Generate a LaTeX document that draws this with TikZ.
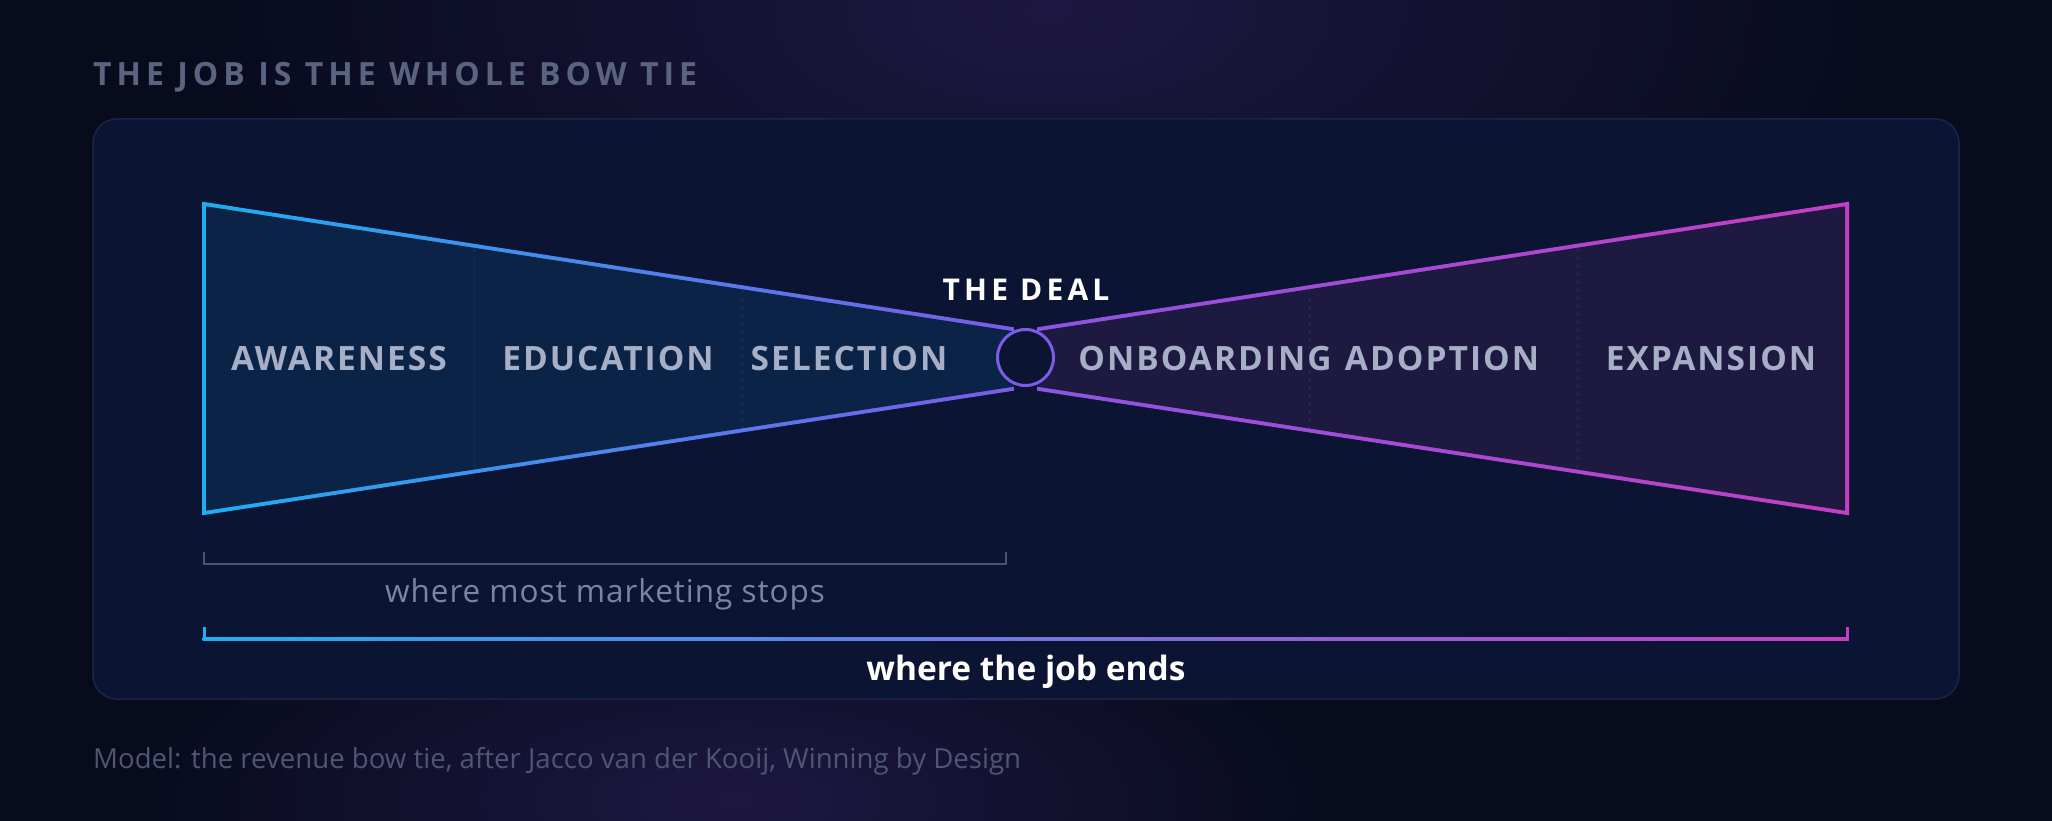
\documentclass[tikz,border=0pt]{standalone}
\usepackage{fontspec}
\setmainfont{Open Sans}
\newfontfamily\spacedfont[LetterSpace=6]{Open Sans}
\newfontfamily\widefont[LetterSpace=14]{Open Sans}
\newfontfamily\titlefont[LetterSpace=15.6]{Open Sans}
\newfontfamily\loosefont[LetterSpace=3]{Open Sans}
\usetikzlibrary{fadings,positioning}

\definecolor{bg}{HTML}{070B1C}
\definecolor{glow}{HTML}{1E1842}
\definecolor{panel}{HTML}{0B1432}
\definecolor{panelline}{HTML}{1A2647}
\definecolor{leftfill}{HTML}{0C2348}
\definecolor{rightfill}{HTML}{1E1940}
\definecolor{cyanline}{HTML}{1EAEF2}
\definecolor{violetline}{HTML}{7A5CE6}
\definecolor{purpleline}{HTML}{8C55E2}
\definecolor{magentaline}{HTML}{C53EC4}
\definecolor{dividergray}{HTML}{24335C}
\definecolor{stagegray}{HTML}{A7AFC7}
\definecolor{titlegray}{HTML}{5A6480}
\definecolor{bracketgray}{HTML}{4A5471}
\definecolor{subgray}{HTML}{7A84A3}
\definecolor{footgray}{HTML}{4D5774}
\tikzfading[name=glowfade,inner color=transparent!0,outer color=transparent!100]

\begin{document}
\begin{tikzpicture}[x=1pt,y=-1pt,node distance=269pt,
    every node/.style={inner sep=0pt},
    stage/.style={text=stagegray,anchor=base,font=\spacedfont\bfseries\fontsize{33.5}{38}\selectfont},
    divider/.style={draw=dividergray,dash pattern=on 3pt off 5pt,line width=1pt}]
\useasboundingbox (0,0) rectangle (2052,821);
\fill[bg] (0,0) rectangle (2052,821);
\fill[glow,path fading=glowfade] (1050,10) ellipse [x radius=900pt,y radius=420pt];
\fill[glow,path fading=glowfade] (735,800) ellipse [x radius=640pt,y radius=240pt];

% panel
\draw[panelline,fill=panel,line width=1.5pt,rounded corners=24pt] (93,119) rectangle (1959,699);

% left wing: gradient outline, then fill
\shade[left color=cyanline,right color=violetline]
  (202,201.7) -- (1013.8,327.3) -- (1013.8,390.7) -- (202,515.3) -- cycle;
\fill[leftfill] (206,206.3) -- (1013.8,331.3) -- (1013.8,386.7) -- (206,510.7) -- cycle;
\draw[divider] (474,249) -- (474,469);
\draw[divider] (742,290) -- (742,428);

% right wing
\shade[left color=purpleline,right color=magentaline]
  (1037.2,327.3) -- (1849,201.7) -- (1849,515.3) -- (1037.2,390.7) -- cycle;
\fill[rightfill] (1037.2,331.3) -- (1845,206.3) -- (1845,510.7) -- (1037.2,386.7) -- cycle;
\draw[divider] (1309,290) -- (1309,428);
\draw[divider] (1577,249) -- (1577,469);

% the knot
\node[circle,draw=violetline,fill=panel,line width=3pt,minimum size=56pt] (deal) at (1025.5,357.5) {};
\node[text=white,anchor=base,font=\widefont\bfseries\fontsize{30}{35}\selectfont] (dealtxt) at (1026,300) {THE DEAL};

% stages
\node[stage] (aware) at (339,370) {AWARENESS};
\node[stage] (educ) [right=of aware.base,anchor=base] {EDUCATION};
\node[stage] (select) at (849,370) {SELECTION};
\node[stage] (onboard) at (1205,370) {ONBOARDING};
\node[stage] (adopt) at (1442,370) {ADOPTION};
\node[stage] (expand) [right=of adopt.base,anchor=base] {EXPANSION};

% brackets
\coordinate (mkA) at (204,552);
\coordinate (mkB) at (1006,552);
\draw[bracketgray,line width=2pt] (mkA) -- ++(0,12) -| (mkB);
\node[text=subgray,anchor=base,font=\loosefont\fontsize{31.5}{36}\selectfont] (mktxt) at (605,602) {where most marketing stops};

\shade[left color=cyanline,middle color=violetline,right color=magentaline] (202.5,637.5) rectangle (1848.5,640.5);
\fill[cyanline] (202.5,627) rectangle (205.5,640.5);
\fill[magentaline] (1845.5,627) rectangle (1848.5,640.5);
\node[text=white,anchor=base,font=\bfseries\fontsize{33.5}{38}\selectfont] (jobtxt) at (1026,680) {where the job ends};

% title and source
\node[text=titlegray,anchor=base west,font=\titlefont\bfseries\fontsize{32}{37}\selectfont] (title) at (93,86) {THE JOB IS THE WHOLE BOW TIE};
\node[text=footgray,anchor=base west,font=\fontsize{27.6}{32}\selectfont] (source) at (93,768) {Model: the revenue bow tie, after Jacco van der Kooij, Winning by Design};
\end{tikzpicture}
\end{document}
